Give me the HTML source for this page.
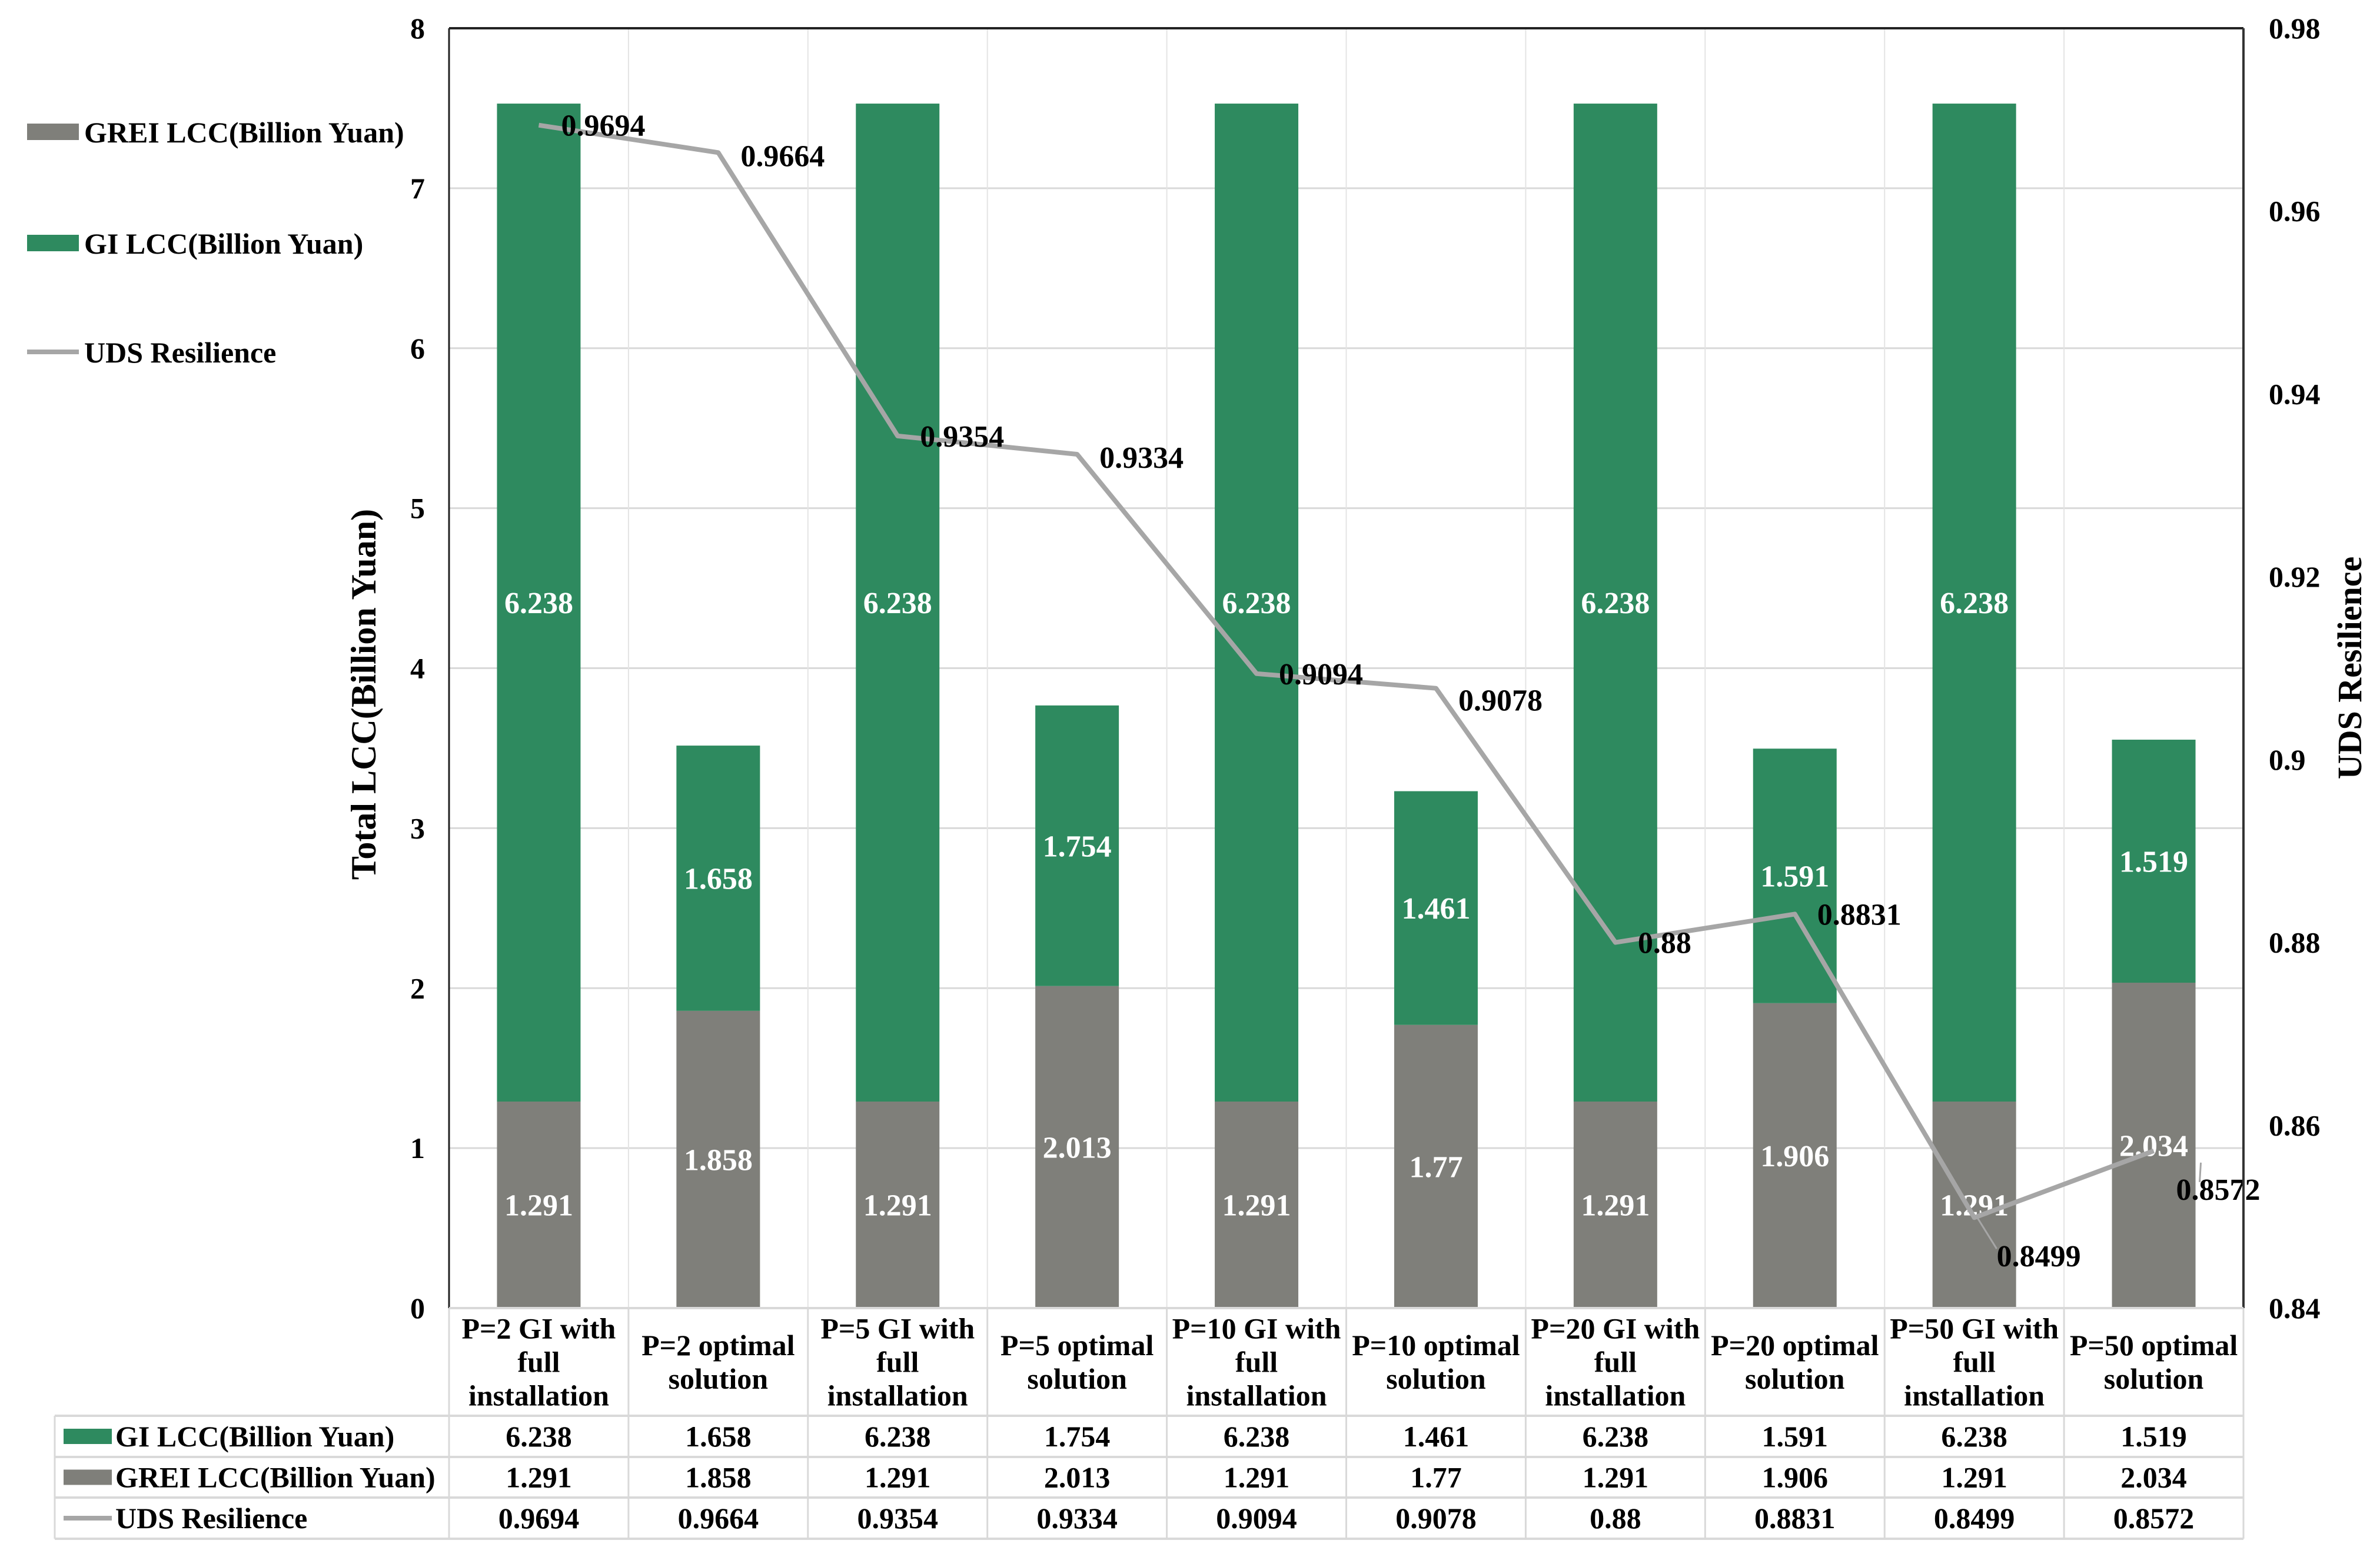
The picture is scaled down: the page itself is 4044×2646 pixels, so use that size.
<!DOCTYPE html>
<html><head><meta charset="utf-8">
<style>
html,body{margin:0;padding:0;background:#fff;}
svg{display:block;font-family:"Liberation Serif",serif;font-weight:bold;}
</style></head>
<body>
<svg id="chart" width="4044" height="2646" viewBox="0 0 4044 2646" xmlns="http://www.w3.org/2000/svg">
<g id="grid"></g>
<g id="bars"></g>
<g id="line"></g>
<g id="axes"></g>
<g id="table"></g>
<g id="legend"></g>
<text x="0" y="0" font-size="60" text-anchor="middle" transform="translate(638,1180) rotate(-90)">Total LCC(Billion Yuan)</text>
<text x="0" y="0" font-size="58" text-anchor="middle" transform="translate(4012,1135) rotate(-90)">UDS Resilience</text>
</svg>
<script>
const categories = [["P=2 GI with","full","installation"],["P=2 optimal","solution"],["P=5 GI with","full","installation"],["P=5 optimal","solution"],["P=10 GI with","full","installation"],["P=10 optimal","solution"],["P=20 GI with","full","installation"],["P=20 optimal","solution"],["P=50 GI with","full","installation"],["P=50 optimal","solution"]];
const giValues = [6.238,1.658,6.238,1.754,6.238,1.461,6.238,1.591,6.238,1.519];
const greiValues = [1.291,1.858,1.291,2.013,1.291,1.77,1.291,1.906,1.291,2.034];
const resilience = [0.9694,0.9664,0.9354,0.9334,0.9094,0.9078,0.88,0.8831,0.8499,0.8572];
const leftTicks = [0,1,2,3,4,5,6,7,8];
const rightTicks = [0.84,0.86,0.88,0.9,0.92,0.94,0.96,0.98];
const rightTickLabels = ["0.84","0.86","0.88","0.9","0.92","0.94","0.96","0.98"];

const NS="http://www.w3.org/2000/svg";
const L=763,R=3812,T=48,B=2223;
const cw=(R-L)/categories.length, bw=142;
const y=v=>B-(v/8)*(B-T);
const y2=v=>B-((v-0.84)/0.14)*(B-T);
const xc=i=>L+cw*(i+0.5);
function mk(tag,attrs,parent,text){const e=document.createElementNS(NS,tag);for(const k in attrs)e.setAttribute(k,attrs[k]);if(text!==undefined)e.textContent=text;parent.appendChild(e);return e;}
const grid=document.getElementById('grid'),bars=document.getElementById('bars'),line=document.getElementById('line'),axes=document.getElementById('axes'),table=document.getElementById('table'),legend=document.getElementById('legend');

leftTicks.forEach(t=>{
  if(t>0&&t<8){const g=mk('line',{x1:L,x2:R,y1:y(t),y2:y(t),stroke:'#d9d9d9','stroke-width':3},grid);
  
  }
  const lb=mk('text',{x:722,y:y(t)+17,'font-size':50,'text-anchor':'end'},axes,String(t));
  
  
});
rightTicks.forEach((t,i)=>{
  const lb=mk('text',{x:3855,y:y2(t)+17,'font-size':50},axes,rightTickLabels[i]);
  
  
});
for(let i=1;i<categories.length;i++){
  const v=mk('line',{x1:L+cw*i,x2:L+cw*i,y1:T,y2:B,stroke:'#e4e4e4','stroke-width':2},grid);
  
  
}
mk('line',{x1:L,x2:R,y1:T,y2:T,stroke:'#222','stroke-width':4},axes);
mk('line',{x1:L,x2:L,y1:T,y2:B,stroke:'#222','stroke-width':3},axes);
mk('line',{x1:R,x2:R,y1:T,y2:B,stroke:'#333','stroke-width':4},axes);

categories.forEach((c,i)=>{
  const x=xc(i)-bw/2;
  const gr=mk('rect',{x:x,y:y(greiValues[i]),width:bw,height:B-y(greiValues[i]),fill:'#7f7f7a'},bars);
  
  
  const top=greiValues[i]+giValues[i];
  const gi=mk('rect',{x:x,y:y(top),width:bw,height:y(greiValues[i])-y(top),fill:'#2e8a5f'},bars);
  
  
  const l1=mk('text',{x:xc(i),y:(y(greiValues[i])+B)/2+18,'font-size':52,fill:'#fff','text-anchor':'middle'},bars,String(greiValues[i]));
  
  
  const l2=mk('text',{x:xc(i),y:(y(top)+y(greiValues[i]))/2+18,'font-size':52,fill:'#fff','text-anchor':'middle'},bars,String(giValues[i]));
  
  
});

const pts=resilience.map((v,i)=>xc(i)+','+y2(v)).join(' ');
const pl=mk('polyline',{points:pts,fill:'none',stroke:'#a6a6a6','stroke-width':8,'stroke-linejoin':'round'},line);


const dy=[0,5,0,5,0,20,0,0,65,65];
resilience.forEach((v,i)=>{
  const lx=xc(i)+38, ly=y2(v)+18+dy[i];
  if(i>=8){const ld=mk('line',{x1:xc(i)+(i==9?80:5),y1:y2(v)+(i==9?20:0),x2:lx+(i==9?40:0),y2:ly-30,stroke:'#a6a6a6','stroke-width':3},line);
    
    }
  const lb=mk('text',{x:lx,y:ly,'font-size':52},line,String(v));
  
  
});

// table
const TL=93, rows=[2223,2406,2476,2545,2615];
const tc='#d9d9d9';
mk('line',{x1:L,x2:R,y1:rows[0],y2:rows[0],stroke:tc,'stroke-width':4},table);
for(let r=1;r<rows.length;r++) mk('line',{x1:TL,x2:R,y1:rows[r],y2:rows[r],stroke:tc,'stroke-width':4},table);
mk('line',{x1:TL,x2:TL,y1:rows[1],y2:rows[4],stroke:tc,'stroke-width':3},table);
for(let i=0;i<=categories.length;i++) mk('line',{x1:L+cw*i,x2:L+cw*i,y1:rows[0],y2:rows[4],stroke:tc,'stroke-width':3},table);
categories.forEach((c,i)=>{
  const n=c.length, lh=57, start=(rows[0]+rows[1])/2-(n-1)*lh/2+17;
  c.forEach((s,k)=>{
    const t=mk('text',{x:xc(i),y:start+k*lh,'font-size':50,'text-anchor':'middle'},table,s);
    
    
  });
  [giValues[i],greiValues[i],resilience[i]].forEach((v,r)=>{
    const t=mk('text',{x:xc(i),y:(rows[r+1]+rows[r+2])/2+17,'font-size':50,'text-anchor':'middle'},table,String(v));
    
    
  });
});
const rowNames=["GI LCC(Billion Yuan)","GREI LCC(Billion Yuan)","UDS Resilience"];
const rowColors=['#2e8a5f','#7f7f7a','#a6a6a6'];
rowNames.forEach((n,r)=>{
  const cy=(rows[r+1]+rows[r+2])/2;
  if(r<2) mk('rect',{x:108,y:cy-13,width:82,height:26,fill:rowColors[r]},table);
  else mk('line',{x1:108,x2:190,y1:cy,y2:cy,stroke:rowColors[r],'stroke-width':8},table);
  const t=mk('text',{x:196,y:cy+17,'font-size':50},table,n);
  
  
});

// legend
const legNames=["GREI LCC(Billion Yuan)","GI LCC(Billion Yuan)","UDS Resilience"];
const legColors=['#7f7f7a','#2e8a5f','#a6a6a6'];
const legY=[224,413,598];
legNames.forEach((n,k)=>{
  if(k<2){const s=mk('rect',{x:46,y:legY[k]-14,width:88,height:28,fill:legColors[k]},legend);
    
    }
  else{const s=mk('line',{x1:46,x2:134,y1:legY[k],y2:legY[k],stroke:legColors[k],'stroke-width':8},legend);
    
    }
  const t=mk('text',{x:143,y:legY[k]+18,'font-size':50},legend,n);
  
  
});
</script>
</body></html>
